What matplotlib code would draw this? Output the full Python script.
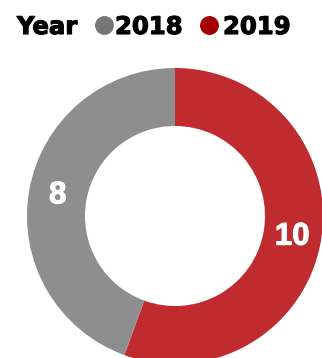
import matplotlib
matplotlib.use("Agg")
import matplotlib.pyplot as plt
import matplotlib.patheffects as pe

# Counts per year
years = ["2019", "2018"]
counts = [10, 8]
slice_colors = ["#BF2B2F", "#8E8E8E"]
legend_years = ["2018", "2019"]
legend_colors = ["#767676", "#A50000"]

W, H = 322, 358
fig = plt.figure(figsize=(W / 100, H / 100), dpi=100)
ax = fig.add_axes([0, 0, 1, 1])

cx, cy, r_out, r_in = 175, -216, 148, 90
wedges, texts = ax.pie(
    counts,
    colors=slice_colors,
    startangle=90,
    counterclock=False,
    center=(cx, cy),
    radius=r_out,
    wedgeprops=dict(width=r_out - r_in, linewidth=0),
    labels=[str(c) for c in counts],
    labeldistance=(r_out + r_in) / 2 / r_out,
    textprops=dict(color="white", fontsize=22.5, fontweight="bold",
                   family="Liberation Sans", ha="center", va="center"),
)
for t in texts:
    t.set_path_effects([pe.withStroke(linewidth=0.8, foreground="white")])

ax.set_xlim(0, W)
ax.set_ylim(-H, 0)
ax.set_aspect("equal")
ax.axis("off")

# Legend row drawn as text and markers
bold = dict(fontsize=17.5, fontweight="bold", family="DejaVu Sans",
            color="black", va="baseline",
            path_effects=[pe.withStroke(linewidth=0.8, foreground="black")])
base_y = -34
ax.text(17, base_y, "Year", ha="left", **bold)
for x_dot, x_txt, label, col in zip([104, 209], [115, 223], legend_years, legend_colors):
    ax.scatter([x_dot], [-25], s=185, color=col, linewidths=0)
    ax.text(x_txt, base_y, label, ha="left", **bold)

fig.savefig("out.png", dpi=100, facecolor="white")
